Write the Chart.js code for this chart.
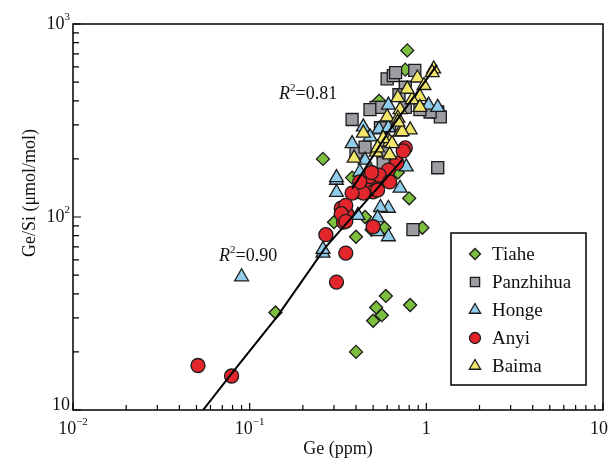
<!DOCTYPE html>
<html>
<head>
<meta charset="utf-8">
<script src="https://cdn.jsdelivr.net/npm/chart.js@4.4.1/dist/chart.umd.min.js"></script>
<style>
  html, body { margin: 0; padding: 0; background: #fff; }
  #wrap { width: 614px; height: 459px; }
</style>
</head>
<body>
<div id="wrap"><canvas id="geChart" width="614" height="459"></canvas></div>
<script>
// ==================== DATA ====================
// Ge in ppm, Ge/Si in umol/mol
const tiaheGe   = [0.78, 0.26, 0.14, 0.40, 0.50, 0.52, 0.56, 0.59, 0.81, 0.80, 0.95, 0.69, 0.58, 0.40, 0.45, 0.30, 0.38, 0.49, 0.54, 0.76];
const tiaheGeSi = [730, 200, 32, 20, 29, 34, 31, 39, 35, 125, 88, 170, 88, 79, 100, 94, 160, 86, 400, 580];

const panGe   = [1.16, 0.84, 0.60, 0.65, 0.86, 0.76, 0.52, 0.48, 1.16, 0.38, 0.67, 1.20, 0.56, 1.05, 0.40, 0.45, 0.57, 0.57, 0.76, 0.92, 0.70, 0.62, 0.55];
const panGeSi = [180, 86, 520, 540, 575, 470, 370, 360, 350, 320, 560, 330, 370, 350, 217, 230, 215, 190, 370, 360, 430, 300, 290];

const hongeGe   = [0.09, 0.26, 0.26, 0.31, 0.31, 0.71, 0.61, 0.55, 0.53, 0.41, 0.61, 0.45, 0.61, 1.03, 1.16, 0.31, 0.42, 0.44, 0.54, 0.61, 0.77, 0.53, 0.48, 0.38];
const hongeGeSi = [49, 65, 68, 155, 134, 141, 111, 112, 99, 102, 79, 197, 380, 380, 370, 160, 171, 293, 285, 290, 182, 84, 260, 240];

const anyiGe   = [0.051, 0.079, 0.31, 0.35, 0.27, 0.50, 0.33, 0.34, 0.355, 0.40, 0.46, 0.53, 0.50, 0.44, 0.53, 0.60, 0.76, 0.68, 0.61, 0.48, 0.54, 0.74, 0.42, 0.38, 0.35, 0.33, 0.35, 0.62, 0.49];
const anyiGeSi = [17, 15, 46, 65, 81, 89, 111, 94, 104, 135, 152, 155, 135, 133, 138, 155, 228, 190, 175, 162, 165, 220, 152, 133, 115, 104, 95, 152, 170];

const baimaGe   = [1.10, 1.08, 0.89, 0.92, 0.69, 0.83, 0.92, 0.71, 0.60, 0.69, 0.71, 0.62, 0.81, 0.52, 0.44, 0.57, 0.73, 0.64, 0.53, 0.39, 0.62, 0.69, 0.78, 0.97];
const baimaGeSi = [585, 560, 525, 420, 415, 405, 370, 360, 330, 325, 275, 245, 283, 217, 272, 255, 277, 240, 228, 202, 210, 310, 460, 480];

// trend lines as traced on the figure
const fitLowGe   = [0.0545, 0.078, 0.143, 0.27, 0.74];
const fitLowGeSi = [10, 15.2, 30.5, 70, 200];
const fitHighGe   = [0.38, 0.62, 1.15];
const fitHighGeSi = [140, 282, 614];

const xMajor = [0.01, 0.1, 1, 10];
const yMajor = [10, 100, 1000];
const xTickLabels = [['10', '\u22122'], ['10', '\u22121'], ['1', ''], ['10', '']];
const yTickLabels = [['10', ''], ['10', '2'], ['10', '3']];

const serif = '"Liberation Serif", "Times New Roman", serif';
const edge = '#1b1b1b';

function pts(xs, ys) {
    return xs.map((x, i) => ({ x: x, y: ys[i] }));
}

function markerSet(label, xs, ys, style, color, radius, order) {
    return {
        type: 'scatter',
        label: label,
        data: pts(xs, ys),
        pointStyle: style,
        backgroundColor: color,
        borderColor: edge,
        borderWidth: 1.3,
        pointRadius: radius,
        pointHoverRadius: radius,
        order: order
    };
}

function fitSet(xs, ys) {
    return {
        type: 'line',
        label: '',
        data: pts(xs, ys),
        borderColor: '#000',
        borderWidth: 2,
        pointRadius: 0,
        tension: 0,
        fill: false,
        order: 0
    };
}

const series = [
    markerSet('Tiahe', tiaheGe, tiaheGeSi, 'rectRot', '#7cbf3e', 6.5, 5),
    markerSet('Panzhihua', panGe, panGeSi, 'rect', '#9c9ca2', 8.5, 4),
    markerSet('Honge', hongeGe, hongeGeSi, 'triangle', '#90cdea', 8, 3),
    markerSet('Anyi', anyiGe, anyiGeSi, 'circle', '#e3262b', 7, 2),
    markerSet('Baima', baimaGe, baimaGeSi, 'triangle', '#f2e66a', 8, 1)
];

// text with a superscript part
function drawPow(ctx, base, sup, x, y, align, size) {
    ctx.font = size + 'px ' + serif;
    const bw = ctx.measureText(base).width;
    const supSize = Math.round(size * 0.6);
    ctx.font = supSize + 'px ' + serif;
    const sw = sup ? ctx.measureText(sup).width : 0;
    const total = bw + sw;
    let x0 = x;
    if (align === 'right') x0 = x - total;
    if (align === 'center') x0 = x - total / 2;
    ctx.textAlign = 'left';
    ctx.textBaseline = 'middle';
    ctx.font = size + 'px ' + serif;
    ctx.fillText(base, x0, y);
    if (sup) {
        ctx.font = supSize + 'px ' + serif;
        ctx.fillText(sup, x0 + bw, y - size * 0.36);
    }
}

function drawR2(ctx, value, x, y) {
    const size = 18;
    ctx.textAlign = 'left';
    ctx.textBaseline = 'alphabetic';
    ctx.font = 'italic ' + size + 'px ' + serif;
    ctx.fillText('R', x, y);
    let w = ctx.measureText('R').width;
    ctx.font = '11px ' + serif;
    ctx.fillText('2', x + w, y - 8);
    w += ctx.measureText('2').width;
    ctx.font = size + 'px ' + serif;
    ctx.fillText('=' + value, x + w, y);
}

const framePlugin = {
    id: 'frame',
    afterDraw(chart) {
        const ctx = chart.ctx;
        const a = chart.chartArea;
        const xs = chart.scales.x, ys = chart.scales.y;
        ctx.save();
        ctx.strokeStyle = '#000';
        ctx.fillStyle = '#111';
        ctx.lineWidth = 1.5;
        ctx.strokeRect(a.left, a.top, a.right - a.left, a.bottom - a.top);

        // inward ticks, bottom and left only
        ctx.lineWidth = 1.2;
        ctx.beginPath();
        xMajor.forEach((d, i) => {
            for (let m = 1; m <= 9; m++) {
                if (i === xMajor.length - 1 && m > 1) break;
                const px = xs.getPixelForValue(d * m);
                const len = m === 1 ? 7 : 5;
                ctx.moveTo(px, a.bottom);
                ctx.lineTo(px, a.bottom - len);
            }
        });
        yMajor.forEach((d, i) => {
            for (let m = 1; m <= 9; m++) {
                if (i === yMajor.length - 1 && m > 1) break;
                const py = ys.getPixelForValue(d * m);
                const len = m === 1 ? 8 : 6;
                ctx.moveTo(a.left, py);
                ctx.lineTo(a.left + len, py);
            }
        });
        ctx.stroke();

        // tick labels
        xMajor.forEach((v, i) => {
            const px = xs.getPixelForValue(v);
            const lab = xTickLabels[i];
            drawPow(ctx, lab[0], lab[1], i === xMajor.length - 1 ? px - 4 : px, a.bottom + 19, 'center', 18);
        });
        yMajor.forEach((v, i) => {
            const py = ys.getPixelForValue(v);
            const lab = yTickLabels[i];
            drawPow(ctx, lab[0], lab[1], a.left - 3, i === 0 ? py - 5 : py, 'right', 18);
        });

        // axis titles
        ctx.font = '18px ' + serif;
        ctx.textAlign = 'center';
        ctx.textBaseline = 'middle';
        ctx.fillText('Ge (ppm)', (a.left + a.right) / 2, 449);
        ctx.save();
        ctx.translate(30, 193);
        ctx.rotate(-Math.PI / 2);
        ctx.fillText('Ge/Si (\u03bcmol/mol)', 0, 0);
        ctx.restore();

        // R^2 notes
        drawR2(ctx, '0.81', 279, 99);
        drawR2(ctx, '0.90', 219, 261);

        // legend box
        const lx = 451, ly = 233, lw = 135, lh = 152;
        ctx.fillStyle = '#fff';
        ctx.fillRect(lx, ly, lw, lh);
        ctx.lineWidth = 1.5;
        ctx.strokeStyle = '#000';
        ctx.strokeRect(lx, ly, lw, lh);
        const radii = { rectRot: 5.5, rect: 6.5, triangle: 6.5, circle: 5.5 };
        series.forEach((ds, i) => {
            const cy = ly + 21 + i * 28;
            ctx.fillStyle = ds.backgroundColor;
            ctx.strokeStyle = edge;
            ctx.lineWidth = 1.3;
            Chart.helpers.drawPoint(ctx, {
                pointStyle: ds.pointStyle,
                radius: radii[ds.pointStyle],
                rotation: 0,
                borderWidth: 1.3
            }, lx + 24, cy);
            ctx.fillStyle = '#111';
            ctx.font = '19px ' + serif;
            ctx.textAlign = 'left';
            ctx.textBaseline = 'middle';
            ctx.fillText(ds.label, lx + 41, cy + 1);
        });
        ctx.restore();
    }
};

new Chart(document.getElementById('geChart'), {
    type: 'scatter',
    data: {
        datasets: [fitSet(fitLowGe, fitLowGeSi), fitSet(fitHighGe, fitHighGeSi)].concat(series)
    },
    options: {
        responsive: false,
        animation: false,
        events: [],
        layout: { padding: { left: 73, right: 11, top: 24, bottom: 49 } },
        plugins: {
            legend: { display: false },
            tooltip: { enabled: false }
        },
        scales: {
            x: {
                type: 'logarithmic', min: 0.01, max: 10,
                ticks: { display: false },
                grid: { display: false, drawTicks: false },
                border: { display: false }
            },
            y: {
                type: 'logarithmic', min: 10, max: 1000,
                ticks: { display: false },
                grid: { display: false, drawTicks: false },
                border: { display: false }
            }
        }
    },
    plugins: [framePlugin]
});
</script>
</body>
</html>
